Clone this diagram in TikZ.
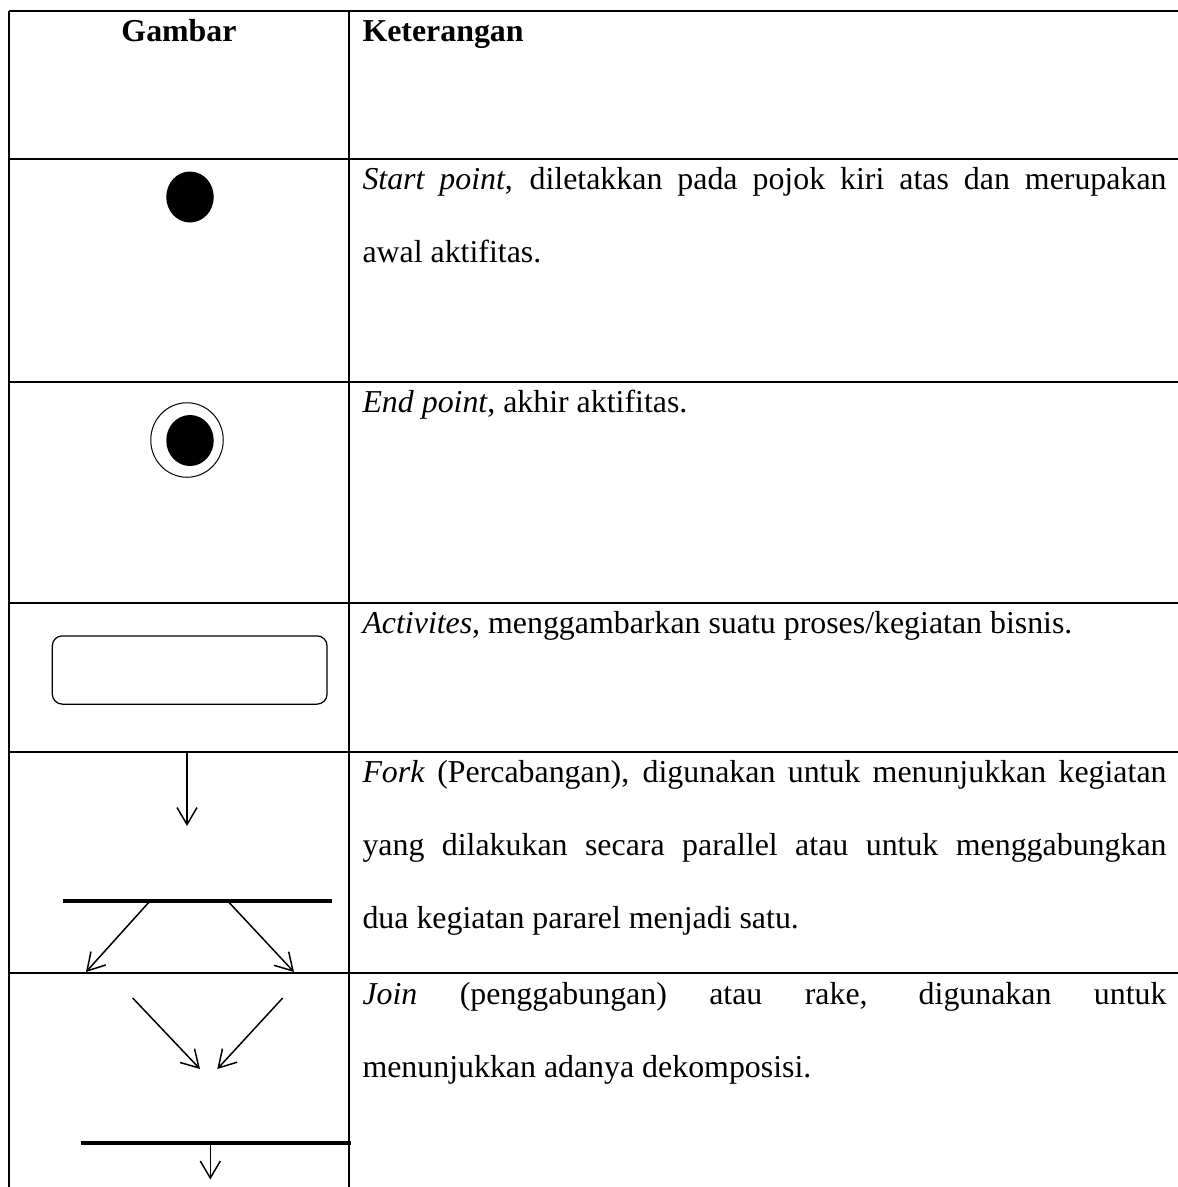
\documentclass[tikz,border=0pt]{standalone}
\usepackage{fontspec}
\setmainfont{Liberation Serif}
\usetikzlibrary{arrows.meta}
\usetikzlibrary{shapes.geometric}

\tikzset{
  tabline/.style={line width=0.6pt},
  headtext/.style={inner sep=0pt, font=\fontsize{12.75}{29.2}\selectfont\bfseries},
  desctext/.style={anchor=base west, inner sep=0pt, text width=321.6pt, align=justify,
    font=\fontsize{12.75}{29.2}\selectfont},
  dotnode/.style={ellipse, fill=black, inner sep=0pt, minimum width=19pt, minimum height=20.4pt},
  ringnode/.style={ellipse, draw, line width=0.4pt, inner sep=0pt, minimum width=29pt, minimum height=29.8pt},
  actnode/.style={rectangle, draw, line width=0.5pt, rounded corners=4pt, inner sep=0pt,
    minimum width=109.9pt, minimum height=27.3pt},
  syncbar/.style={rectangle, fill=black, inner sep=0pt, minimum height=1.6pt},
  flow/.style={line width=0.6pt, -{Straight Barb[length=6.8pt,width=8pt]}}
}

\begin{document}
\begin{tikzpicture}[x=0.4pt,y=-0.4pt]
\useasboundingbox (0,0) rectangle (1178,1187);

% table
\draw[tabline] (9,11) -- (9,1195);
\draw[tabline] (349,11) -- (349,1195);
\draw[tabline] (9,11) -- (1185,11);
\draw[tabline] (9,159) -- (1185,159);
\draw[tabline] (9,382) -- (1185,382);
\draw[tabline] (9,603) -- (1185,603);
\draw[tabline] (9,752) -- (1185,752);
\draw[tabline] (9,973) -- (1185,973);

% header
\node[headtext, anchor=base] (gambar) at (179,41) {Gambar};
\node[headtext, anchor=base west] (keterangan) at (362,41) {Keterangan};

% start point
\node[dotnode] (start) at (190,197) {};
\node[desctext] (startdesc) at (362,189) {\textit{Start point}, diletakkan pada pojok kiri atas dan merupakan\linebreak awal aktifitas.};

% end point
\node[ringnode] (endring) at (187,440) {};
\node[dotnode] (enddot) at (190,440.5) {};
\node[desctext] (enddesc) at (362,412) {\textit{End point}, akhir aktifitas.};

% activity
\node[actnode] (activity) at (189.7,670) {};
\node[desctext] (actdesc) at (362,633) {\textit{Activites}, menggambarkan suatu proses/kegiatan bisnis.};

% fork
\coordinate (forkin) at (187,752);
\coordinate (forkinend) at (187,826);
\node[syncbar, minimum width=107.8pt] (forkbar) at (197.5,900.7) {};
\coordinate (forkl) at (150,901);
\coordinate (forklend) at (86,972);
\coordinate (forkr) at (227.7,901);
\coordinate (forkrend) at (294,972);
\draw[flow] (forkin) -- (forkinend);
\draw[flow] (forkl) -- (forklend);
\draw[flow] (forkr) -- (forkrend);
\node[desctext] (forkdesc) at (362,782) {\textit{Fork} (Percabangan), digunakan untuk menunjukkan kegiatan\linebreak yang dilakukan secara parallel atau untuk menggabungkan\linebreak dua kegiatan pararel menjadi satu.};

% join
\coordinate (joinl) at (132.7,998);
\coordinate (joinlend) at (200,1069);
\coordinate (joinr) at (282.7,998);
\coordinate (joinrend) at (217.3,1069);
\node[syncbar, minimum width=107.9pt] (joinbar) at (215.8,1143.3) {};
\coordinate (joinout) at (210.3,1143.3);
\coordinate (joinoutend) at (210.3,1179.5);
\draw[flow] (joinl) -- (joinlend);
\draw[flow] (joinr) -- (joinrend);
\draw[flow] (joinout) -- (joinoutend);
\node[desctext] (joindesc) at (362,1004) {\textit{Join} (penggabungan) atau rake, digunakan untuk\linebreak menunjukkan adanya dekomposisi.};

\end{tikzpicture}
\end{document}
